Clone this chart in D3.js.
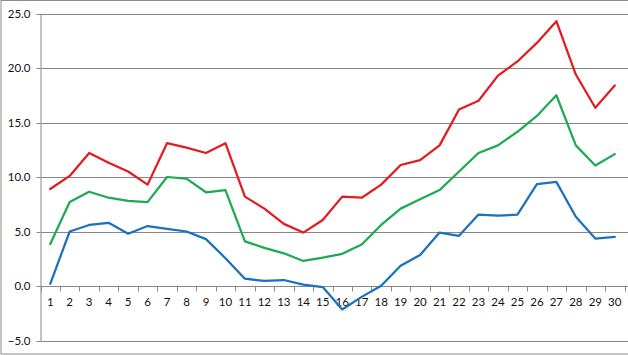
<!DOCTYPE html>
<html>
<head>
<meta charset="utf-8">
<script src="https://cdn.jsdelivr.net/npm/d3@7"></script>
<style>
html,body{margin:0;padding:0;background:#fff;}
svg{display:block;}
</style>
</head>
<body>
<svg id="chart" width="628" height="355"></svg>
<script>
const categories = d3.range(1, 31).map(String);
const yTicks = [-5, 0, 5, 10, 15, 20, 25];
const redSeries = [8.9, 10.1, 12.2, 11.3, 10.5, 9.3, 13.1, 12.7, 12.2, 13.1,
  8.2, 7.1, 5.7, 4.9, 6.05, 8.2, 8.1, 9.3, 11.1, 11.55,
  12.9, 16.2, 17.0, 19.3, 20.6, 22.3, 24.3, 19.4, 16.35, 18.4];
const greenSeries = [3.85, 7.7, 8.65, 8.1, 7.8, 7.7, 10.0, 9.85, 8.6, 8.8,
  4.1, 3.5, 3.0, 2.3, 2.6, 2.95, 3.8, 5.6, 7.1, 7.95,
  8.8, 10.5, 12.2, 12.9, 14.15, 15.6, 17.5, 12.9, 11.05, 12.1];
const blueSeries = [0.2, 5.0, 5.6, 5.8, 4.8, 5.5, 5.25, 5.0, 4.3, 2.55,
  0.67, 0.46, 0.55, 0.12, -0.1, -2.15, -1.0, 0.03, 1.85, 2.85,
  4.9, 4.6, 6.55, 6.45, 6.55, 9.35, 9.55, 6.35, 4.35, 4.5];

const series = [
  {name: "red", values: redSeries, color: "#E31B1F"},
  {name: "green", values: greenSeries, color: "#1DAA50"},
  {name: "blue", values: blueSeries, color: "#1A72BC"}
];

const svg = d3.select("#chart");
const mLeft = 40.5, mRight = 624.5, mTop = 13.5, mBottom = 340.5;
const font = "Lato, 'Open Sans', sans-serif";

// outer border
svg.append("rect").attr("x", 1).attr("y", 0.5).attr("width", 640).attr("height", 353.5)
  .attr("fill", "none").attr("stroke", "#8c8c8c").attr("stroke-width", 1);

const x = d3.scaleBand().domain(categories).range([mLeft, mRight]).paddingInner(0).paddingOuter(0);
const y = d3.scaleLinear().domain([-5, 25]).range([mBottom, mTop]);

// gridlines
svg.append("g").selectAll("line").data(yTicks).join("line")
  .attr("x1", mLeft).attr("x2", 628)
  .attr("y1", d => Math.round(y(d)) + 0.5).attr("y2", d => Math.round(y(d)) + 0.5)
  .attr("stroke", "#888").attr("stroke-width", 1);

// y axis
const yAxis = svg.append("g").attr("transform", `translate(${mLeft},0)`)
  .call(d3.axisLeft(y).tickValues(yTicks).tickFormat(d3.format(".1f")).tickSize(4).tickPadding(6).tickSizeOuter(0));
yAxis.select(".domain").attr("stroke", "#888");
yAxis.selectAll(".tick line").attr("stroke", "#888");
yAxis.selectAll("text").attr("font-family", font).attr("font-size", "11.5px").attr("fill", "#111");
yAxis.selectAll(".tick").attr("transform", d => `translate(0,${Math.round(y(d)) + 0.5})`);

// x axis at zero
const y0 = Math.round(y(0)) + 0.5;
const xAxisG = svg.append("g").attr("transform", `translate(0,${y0})`);
xAxisG.append("line").attr("x1", mLeft).attr("x2", mRight).attr("y1", 0).attr("y2", 0).attr("stroke", "#888");
xAxisG.selectAll("line.tk").data(d3.range(0, categories.length + 1)).join("line")
  .attr("class", "tk")
  .attr("x1", i => Math.round(mLeft + i * x.step()) + 0.5)
  .attr("x2", i => Math.round(mLeft + i * x.step()) + 0.5)
  .attr("y1", 0).attr("y2", 5).attr("stroke", "#888");
xAxisG.selectAll("text").data(categories).join("text")
  .attr("x", d => x(d) + x.bandwidth() / 2)
  .attr("y", 19)
  .attr("text-anchor", "middle")
  .attr("font-family", font).attr("font-size", "11.5px").attr("fill", "#111")
  .text(d => d);

// lines
const line = d3.line()
  .x((d, i) => x(categories[i]) + x.bandwidth() / 2)
  .y(d => y(d));
svg.append("g").selectAll("path").data(series).join("path")
  .attr("d", s => line(s.values))
  .attr("fill", "none")
  .attr("stroke", s => s.color)
  .attr("stroke-width", 2.25)
  .attr("stroke-linejoin", "round")
  .attr("stroke-linecap", "round");
</script>
</body>
</html>
